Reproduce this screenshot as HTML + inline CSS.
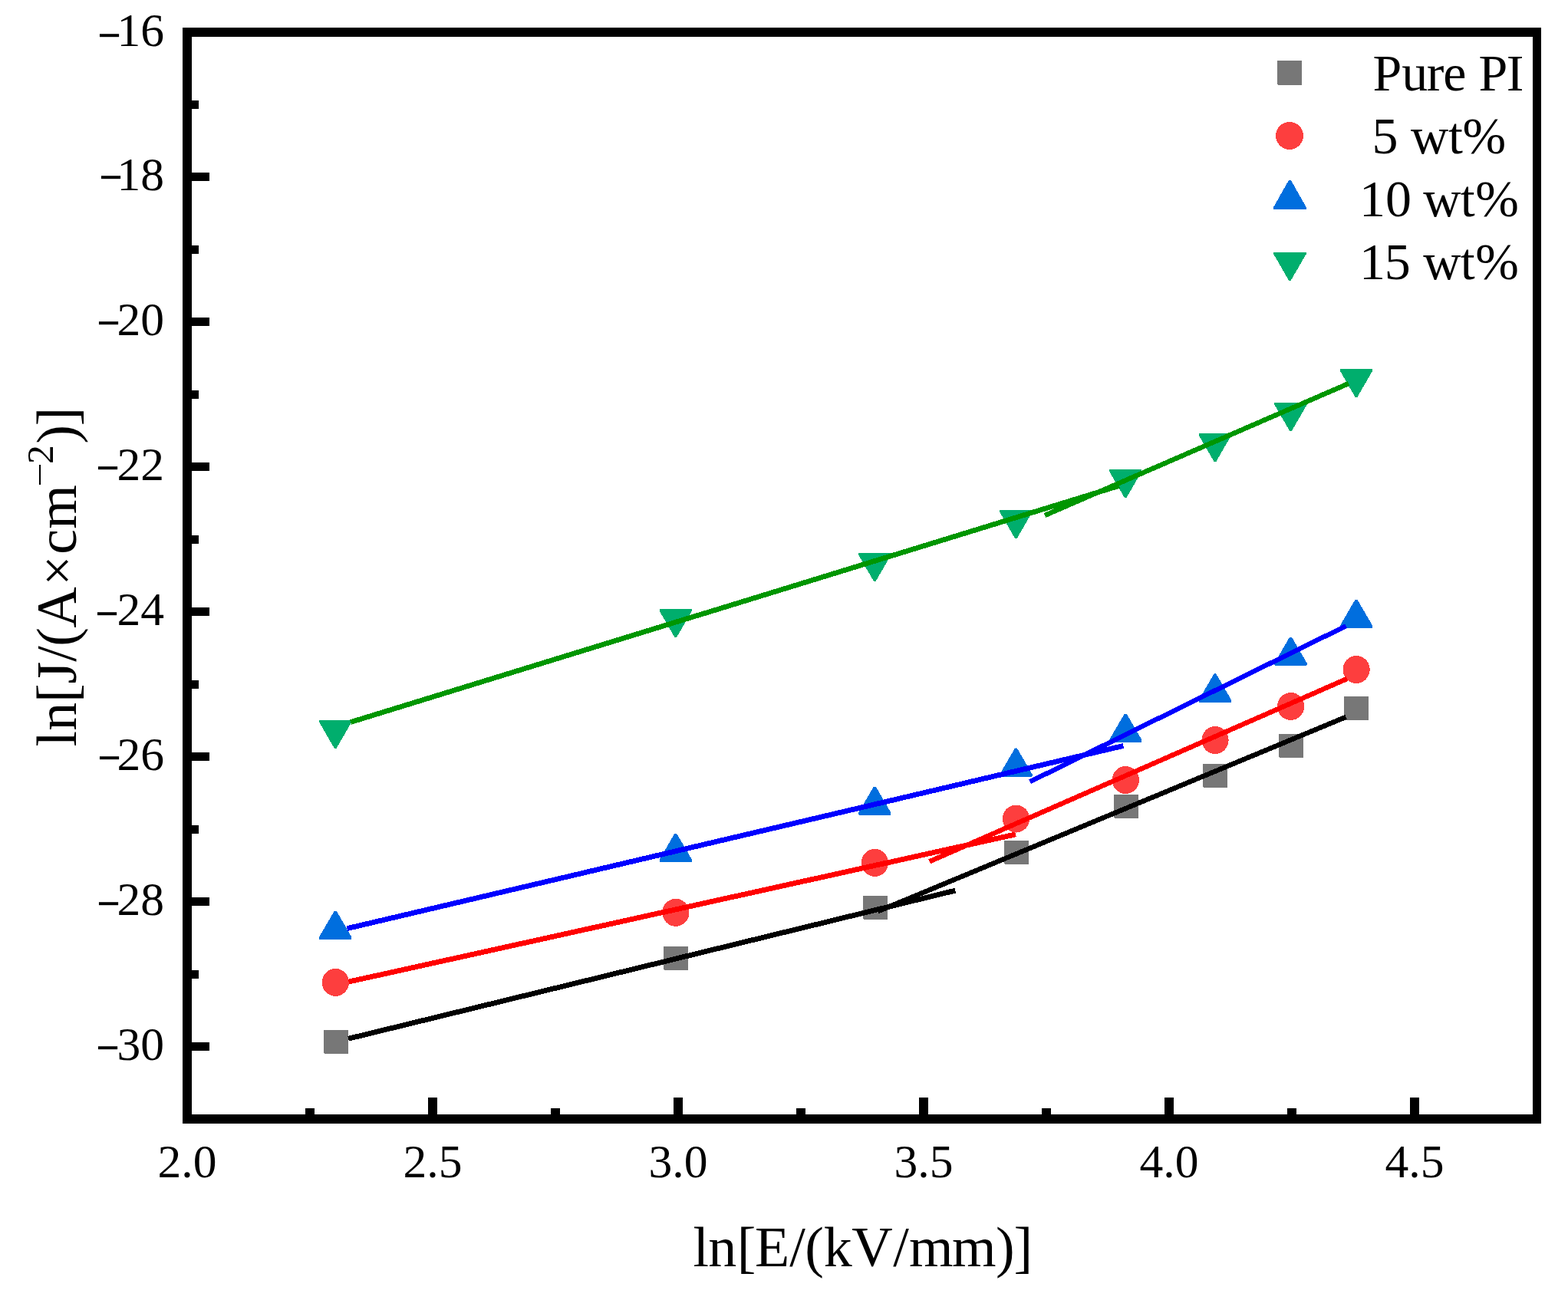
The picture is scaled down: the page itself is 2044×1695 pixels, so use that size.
<!DOCTYPE html>
<html lang="en"><head><meta charset="utf-8"><title>ln J vs ln E</title>
<style>
html,body{margin:0;padding:0;background:#fff;}
svg{display:block;width:2044px;height:1695px;}
text{font-family:'Liberation Serif', serif;fill:#000;}
</style></head><body>
<svg width="2044" height="1695" viewBox="0 0 2044 1695" role="img" aria-label="ln J versus ln E for pure PI and 5, 10, 15 wt% composites">
<rect x="0" y="0" width="2044" height="1695" fill="#fff"/>
<g id="markers" shape-rendering="crispEdges">
<polygon points="422.0,1343.0 454.0,1343.0 454.0,1373.0 453.0,1374.0 423.0,1374.0 422.0,1373.0" fill="#777777"/>
<polygon points="865.0,1234.0 897.0,1234.0 897.0,1264.0 896.0,1265.0 866.0,1265.0 865.0,1264.0" fill="#777777"/>
<polygon points="1125.0,1168.0 1157.0,1168.0 1157.0,1198.0 1156.0,1199.0 1126.0,1199.0 1125.0,1198.0" fill="#777777"/>
<polygon points="1309.0,1096.0 1341.0,1096.0 1341.0,1126.0 1340.0,1127.0 1310.0,1127.0 1309.0,1126.0" fill="#777777"/>
<polygon points="1452.0,1036.0 1484.0,1036.0 1484.0,1066.0 1483.0,1067.0 1453.0,1067.0 1452.0,1066.0" fill="#777777"/>
<polygon points="1568.0,996.0 1600.0,996.0 1600.0,1026.0 1599.0,1027.0 1569.0,1027.0 1568.0,1026.0" fill="#777777"/>
<polygon points="1667.0,957.0 1699.0,957.0 1699.0,987.0 1698.0,988.0 1668.0,988.0 1667.0,987.0" fill="#777777"/>
<polygon points="1752.0,908.0 1784.0,908.0 1784.0,938.0 1783.0,939.0 1753.0,939.0 1752.0,938.0" fill="#777777"/>
<ellipse cx="437.3" cy="1280.9" rx="17.6" ry="18" fill="#fd3e3e"/>
<ellipse cx="880.9" cy="1189.8" rx="17.6" ry="18" fill="#fd3e3e"/>
<ellipse cx="1140.4" cy="1124.9" rx="17.6" ry="18" fill="#fd3e3e"/>
<ellipse cx="1324.5" cy="1067.5" rx="17.6" ry="18" fill="#fd3e3e"/>
<ellipse cx="1467.3" cy="1017.0" rx="17.6" ry="18" fill="#fd3e3e"/>
<ellipse cx="1584.0" cy="965.0" rx="17.6" ry="18" fill="#fd3e3e"/>
<ellipse cx="1682.6" cy="921.0" rx="17.6" ry="18" fill="#fd3e3e"/>
<ellipse cx="1768.1" cy="873.0" rx="17.6" ry="18" fill="#fd3e3e"/>
<polygon points="416.1,1221.6 435.3,1188.6 436.7,1187.6 437.7,1187.6 439.1,1188.6 458.3,1221.6 458.3,1224.3 457.7,1224.9 416.7,1224.9 416.1,1224.3" fill="#006ede"/>
<polygon points="859.7,1120.7 878.9,1087.7 880.3,1086.7 881.3,1086.7 882.7,1087.7 901.9,1120.7 901.9,1123.4 901.3,1124.0 860.3,1124.0 859.7,1123.4" fill="#006ede"/>
<polygon points="1119.2,1059.5 1138.4,1026.5 1139.8,1025.5 1140.8,1025.5 1142.2,1026.5 1161.4,1059.5 1161.4,1062.2 1160.8,1062.8 1119.8,1062.8 1119.2,1062.2" fill="#006ede"/>
<polygon points="1303.3,1009.4 1322.5,976.4 1323.9,975.4 1324.9,975.4 1326.3,976.4 1345.5,1009.4 1345.5,1012.1 1344.9,1012.7 1303.9,1012.7 1303.3,1012.1" fill="#006ede"/>
<polygon points="1446.1,964.5 1465.3,931.5 1466.7,930.5 1467.7,930.5 1469.1,931.5 1488.3,964.5 1488.3,967.2 1487.7,967.8 1446.7,967.8 1446.1,967.2" fill="#006ede"/>
<polygon points="1562.8,912.4 1582.0,879.4 1583.4,878.4 1584.4,878.4 1585.8,879.4 1605.0,912.4 1605.0,915.1 1604.4,915.7 1563.4,915.7 1562.8,915.1" fill="#006ede"/>
<polygon points="1661.4,864.5 1680.6,831.5 1682.0,830.5 1683.0,830.5 1684.4,831.5 1703.6,864.5 1703.6,867.2 1703.0,867.8 1662.0,867.8 1661.4,867.2" fill="#006ede"/>
<polygon points="1746.9,815.6 1766.1,782.6 1767.5,781.6 1768.5,781.6 1769.9,782.6 1789.1,815.6 1789.1,818.3 1788.5,818.9 1747.5,818.9 1746.9,818.3" fill="#006ede"/>
<polygon points="416.1,939.0 458.3,939.0 458.3,941.6 438.3,976.2 436.1,976.2 416.1,941.6" fill="#00ae6d"/>
<polygon points="859.7,794.1 901.9,794.1 901.9,796.7 881.9,831.3 879.7,831.3 859.7,796.7" fill="#00ae6d"/>
<polygon points="1119.2,721.1 1161.4,721.1 1161.4,723.7 1141.4,758.3 1139.2,758.3 1119.2,723.7" fill="#00ae6d"/>
<polygon points="1303.3,665.2 1345.5,665.2 1345.5,667.8 1325.5,702.4 1323.3,702.4 1303.3,667.8" fill="#00ae6d"/>
<polygon points="1446.1,612.1 1488.3,612.1 1488.3,614.7 1468.3,649.3 1466.1,649.3 1446.1,614.7" fill="#00ae6d"/>
<polygon points="1562.8,565.2 1605.0,565.2 1605.0,567.8 1585.0,602.4 1582.8,602.4 1562.8,567.8" fill="#00ae6d"/>
<polygon points="1661.4,525.2 1703.6,525.2 1703.6,527.8 1683.6,562.4 1681.4,562.4 1661.4,527.8" fill="#00ae6d"/>
<polygon points="1746.9,481.1 1789.1,481.1 1789.1,483.7 1769.1,518.3 1766.9,518.3 1746.9,483.7" fill="#00ae6d"/>
</g>
<g id="fits" fill="none" stroke-linecap="butt" shape-rendering="crispEdges">
<line x1="454.0" y1="1354.31" x2="1245.3" y2="1161.11" stroke="#000000" stroke-width="6.80"/>
<line x1="1144.5" y1="1188.21" x2="1754.6" y2="934.79" stroke="#000000" stroke-width="6.46"/>
<line x1="454.5" y1="1280.08" x2="1324.0" y2="1087.88" stroke="#ff0000" stroke-width="6.84"/>
<line x1="1211.6" y1="1123.3" x2="1756.1" y2="884.93" stroke="#ff0000" stroke-width="6.41"/>
<line x1="452.5" y1="1210.63" x2="1464.4" y2="972.41" stroke="#0000ff" stroke-width="6.81"/>
<line x1="1342.8" y1="1019.21" x2="1754.6" y2="816.15" stroke="#0000ff" stroke-width="6.28"/>
<line x1="457.0" y1="941.57" x2="1459.0" y2="633.38" stroke="#009600" stroke-width="6.69"/>
<line x1="1362.0" y1="671.98" x2="1758.0" y2="500.02" stroke="#009600" stroke-width="6.42"/>
</g>
<g id="frame" fill="#000" shape-rendering="crispEdges">
<rect x="238" y="36" width="1771" height="12"/>
<rect x="238" y="1453" width="1771" height="12"/>
<rect x="238" y="36" width="12" height="1429"/>
<rect x="1998" y="36" width="11" height="1429"/>
<rect x="250" y="131" width="9" height="11"/>
<rect x="250" y="225" width="23" height="11"/>
<rect x="250" y="320" width="9" height="11"/>
<rect x="250" y="414" width="23" height="11"/>
<rect x="250" y="509" width="9" height="11"/>
<rect x="250" y="603" width="23" height="11"/>
<rect x="250" y="698" width="9" height="11"/>
<rect x="250" y="792" width="23" height="11"/>
<rect x="250" y="887" width="9" height="11"/>
<rect x="250" y="981" width="23" height="11"/>
<rect x="250" y="1076" width="9" height="11"/>
<rect x="250" y="1170" width="23" height="11"/>
<rect x="250" y="1265" width="9" height="11"/>
<rect x="250" y="1359" width="23" height="11"/>
<rect x="398" y="1445" width="12" height="8"/>
<rect x="558" y="1431" width="12" height="22"/>
<rect x="718" y="1445" width="12" height="8"/>
<rect x="878" y="1431" width="12" height="22"/>
<rect x="1038" y="1445" width="12" height="8"/>
<rect x="1198" y="1431" width="12" height="22"/>
<rect x="1358" y="1445" width="12" height="8"/>
<rect x="1518" y="1431" width="12" height="22"/>
<rect x="1678" y="1445" width="12" height="8"/>
<rect x="1838" y="1431" width="12" height="22"/>
</g>
<g id="ylabels" font-size="61.6">
<text transform="translate(127.30,73.39) scale(0.878,1.3)">−</text><text x="214" y="60.0" text-anchor="end">16</text>
<text transform="translate(129.30,258.49) scale(0.878,1.3)">−</text><text x="214" y="247.9" text-anchor="end">18</text>
<text transform="translate(126.20,448.49) scale(0.878,1.3)">−</text><text x="214" y="436.9" text-anchor="end">20</text>
<text transform="translate(125.20,637.49) scale(0.878,1.3)">−</text><text x="214" y="625.9" text-anchor="end">22</text>
<text transform="translate(124.20,827.39) scale(0.878,1.3)">−</text><text x="214" y="814.9" text-anchor="end">24</text>
<text transform="translate(127.30,1015.49) scale(0.878,1.3)">−</text><text x="214" y="1003.9" text-anchor="end">26</text>
<text transform="translate(126.20,1205.39) scale(0.878,1.3)">−</text><text x="214" y="1192.9" text-anchor="end">28</text>
<text transform="translate(125.20,1393.39) scale(0.878,1.3)">−</text><text x="214" y="1381.8" text-anchor="end">30</text>
</g>
<g id="xlabels" font-size="61.6" text-anchor="middle">
<text x="244.0" y="1535">2.0</text>
<text x="564.0" y="1535">2.5</text>
<text x="884.0" y="1535">3.0</text>
<text x="1204.0" y="1535">3.5</text>
<text x="1524.0" y="1535">4.0</text>
<text x="1844.0" y="1535">4.5</text>
</g>
<text x="903.50 923.16 960.77 984.08 1029.22 1049.25 1073.70 1110.23 1164.32 1185.02 1241.02 1297.96 1321.59" y="1650.8" font-size="74.0" id="xtitle">ln[E/(kV/mm)]</text>
<g id="ytitle" transform="rotate(-90)">
<text x="-973.53 -952.76 -916.08 -891.48 -862.71 -842.80 -818.86" y="98.94" font-size="74.0">ln[J/(A</text>
<text x="-763.47" y="97.84" font-size="69.0">×</text>
<text x="-722.67 -689.83" y="98.94" font-size="74.0">cm</text>
<text x="-578.84 -555.46" y="98.94" font-size="74.0">)]</text>
<text transform="translate(-634.68,65.94) scale(1.129,0.85)" font-size="49.5">−</text>
<text x="-605.02" y="68.94" font-size="49.5">2</text>
</g>
<g id="legend" shape-rendering="crispEdges">
<polygon points="1665.0,79.0 1697.0,79.0 1697.0,110.0 1696.0,111.0 1666.0,111.0 1665.0,110.0" fill="#777777"/>
<circle cx="1681" cy="176.9" r="18.0" fill="#fd3e3e"/>
<polygon points="1660.3,269.8 1679.5,235.8 1680.9,234.8 1681.9,234.8 1683.3,235.8 1702.5,269.8 1702.5,272.5 1701.9,273.1 1660.9,273.1 1660.3,272.5" fill="#006ede"/>
<polygon points="1660.3,328.9 1702.5,328.9 1702.5,331.5 1682.5,366.1 1680.3,366.1 1660.3,331.5" fill="#00ae6d"/>
<text x="1789.42 1827.28 1859.75 1881.36 1911.54 1927.57 1963.64" y="117.8" font-size="68.0">Pure PI</text>
<text x="1788.60 1822.60 1839.06 1887.92 1906.43" y="199.8" font-size="68.0">5 wt%</text>
<text x="1772.00 1806.10 1840.10 1855.16 1903.87 1923.33" y="281.8" font-size="68.0">10 wt%</text>
<text x="1772.00 1804.85 1838.85 1855.16 1903.87 1923.33" y="363.8" font-size="68.0">15 wt%</text>
</g>
</svg></body></html>
